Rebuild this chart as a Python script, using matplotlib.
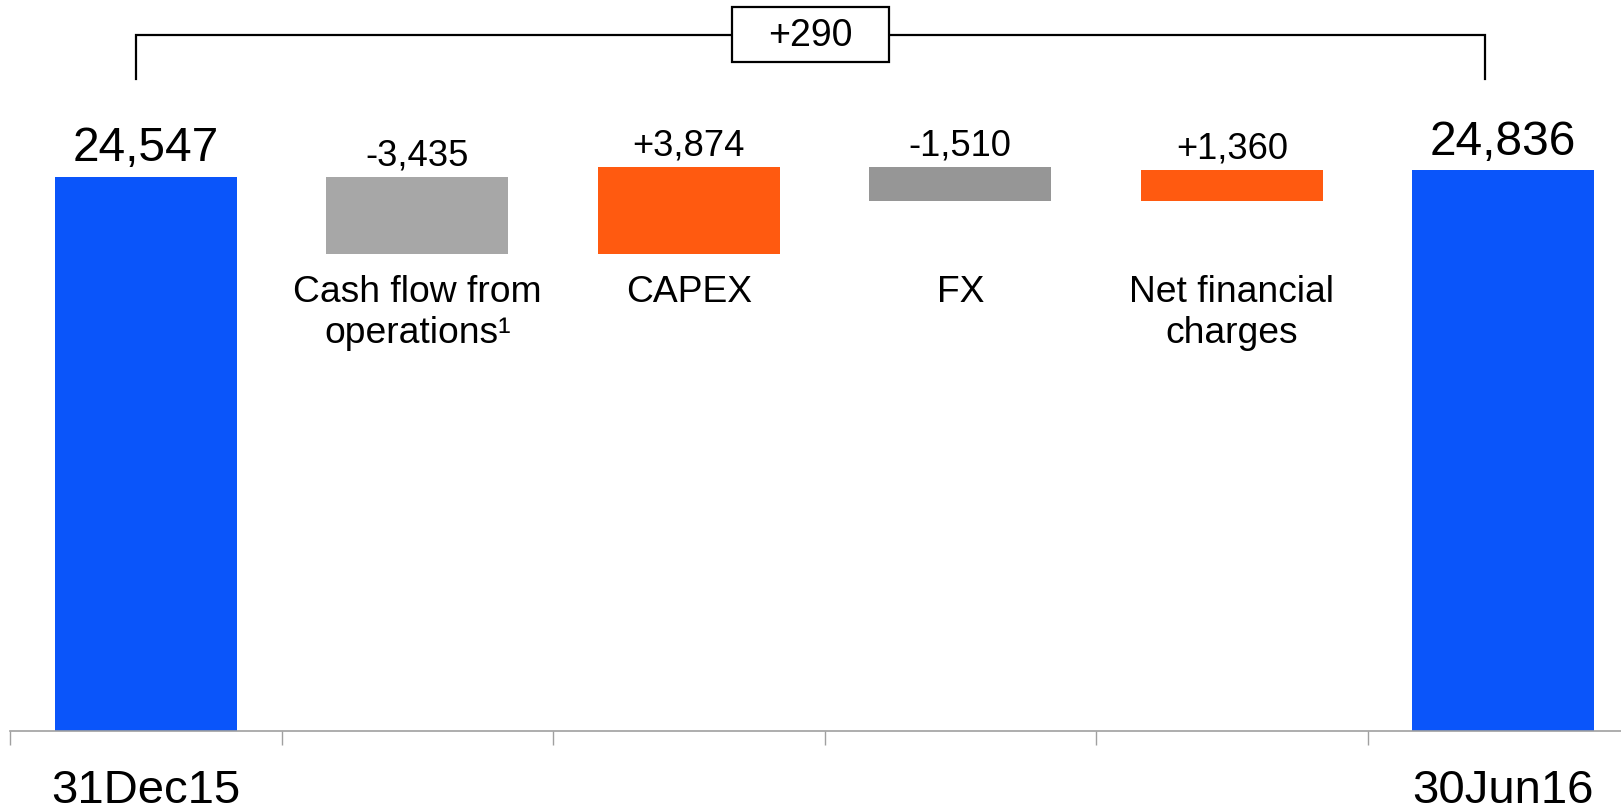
import matplotlib
matplotlib.use("Agg")
import matplotlib.pyplot as plt
import numpy as np
from matplotlib.patches import Rectangle

plt.rcParams['font.family'] = ['Liberation Sans', 'DejaVu Sans']

# data
categories = ["31Dec15", "Cash flow from\noperations\u00b9", "CAPEX", "FX",
              "Net financial\ncharges", "30Jun16"]
values = [24547, -3435, 3874, -1510, 1360, 24836]
value_labels = ["24,547", "-3,435", "+3,874", "-1,510", "+1,360", "24,836"]
bar_colors = ["#0A55FA", "#A7A7A7", "#FF5A10", "#969696", "#FF5A10", "#0A55FA"]
change_label = "+290"

fig = plt.figure(figsize=(16.21, 8.12), dpi=100)
ax = fig.add_axes([10 / 1621, 0, 1611 / 1621, 1])

n = len(values)
x = np.arange(n)
bottoms, heights = [], []
running = 0
for i, v in enumerate(values):
    if i == 0 or i == n - 1:
        bottoms.append(0)
        heights.append(v)
        running = v
    else:
        new = running + v
        bottoms.append(min(running, new))
        heights.append(abs(v))
        running = new

ax.bar(x, heights, bottom=bottoms, width=0.67, color=bar_colors, zorder=2)

# value labels above bars
for i in range(n):
    top = bottoms[i] + heights[i]
    big = i == 0 or i == n - 1
    ax.annotate(value_labels[i], (x[i], top), xytext=(0, 12 if big else 9),
                textcoords="offset points", ha="center", va="baseline",
                fontsize=34.5 if big else 26.2)

# category labels
for i in range(1, n - 1):
    ax.text(x[i], 20250, categories[i], ha="center", va="top",
            fontsize=26.8, linespacing=1.22)
for i in (0, n - 1):
    ax.text(x[i], -3150, categories[i], ha="center", va="baseline", fontsize=34)

# bracket showing total change
y_line, y_drop = 30841, 28879
x_left, x_right = -0.036, 4.933
ax.plot([x_left, x_left, x_right, x_right], [y_drop, y_line, y_line, y_drop],
        color="black", lw=1.6, zorder=3, solid_joinstyle="miter")
xm = (x_left + x_right) / 2
bw, bh = 0.578, 2436
ax.add_patch(Rectangle((xm - bw / 2, y_line - bh / 2), bw, bh, facecolor="white",
                       edgecolor="black", lw=1.6, zorder=4))
ax.text(xm, y_line, change_label, ha="center", va="center", fontsize=27, zorder=5)

# axes styling
ax.set_xlim(-0.5, -0.5 + 1611 / 271.5)
ax.set_ylim(-80 / 0.022577, 732 / 0.022577)
for s in ("top", "left", "right"):
    ax.spines[s].set_visible(False)
ax.spines["bottom"].set_position(("data", 0))
ax.spines["bottom"].set_color("#A0A0A0")
ax.spines["bottom"].set_linewidth(1.2)
ax.set_yticks([])
ax.set_xticks(np.arange(-0.5, n - 0.5, 1))
ax.set_xticklabels([])
ax.tick_params(axis="x", direction="out", length=10, width=1, color="#A0A0A0")
ax.patch.set_alpha(0)

fig.savefig("out.png", dpi=100)
